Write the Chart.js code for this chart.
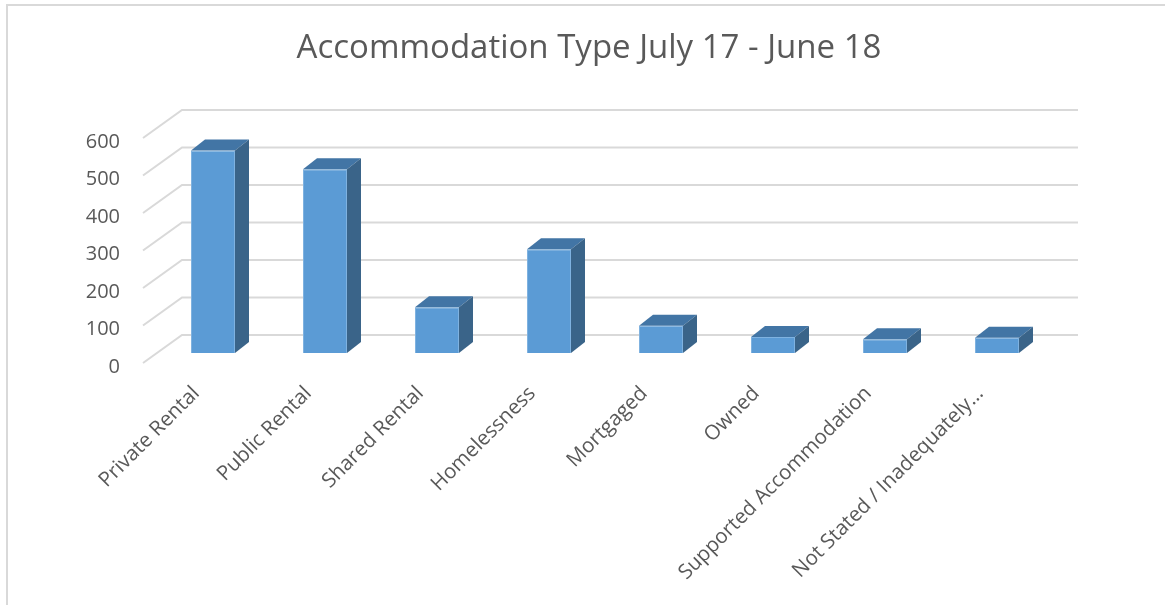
<!DOCTYPE html>
<html><head><meta charset="utf-8">
<script src="https://cdn.jsdelivr.net/npm/chart.js"></script>
<style>html,body{margin:0;padding:0;background:#fff;overflow:hidden}</style>
</head><body>
<div style="position:relative;width:1165px;height:605px"><canvas id="c" width="1165" height="605" style="width:1165px;height:605px"></canvas></div>
<script>
const categories = ['Private Rental','Public Rental','Shared Rental','Homelessness','Mortgaged','Owned','Supported Accommodation','Not Stated / Inadequately\u2026'];
const values = [540, 490, 122, 277, 73, 43, 37, 41];
const yTicks = [0, 100, 200, 300, 400, 500, 600];
const titleText = 'Accommodation Type July 17 - June 18';

const FONT = "'Open Sans', 'Noto Sans', sans-serif";
const TEXT = '#595959';
const GRID = '#d9d9d9';
const BAR_DX = 14, BAR_DY = -11;
const WALL_DX = 25, WALL_DY = -18;
const FLOOR_DX = -14, FLOOR_DY = 10;

const threeD = {
  id: 'threeD',
  beforeDraw(chart) {
    const ctx = chart.ctx;
    ctx.save();
    ctx.fillStyle = '#fff';
    ctx.fillRect(0, 0, chart.width, chart.height);
    ctx.strokeStyle = GRID; ctx.lineWidth = 2;
    ctx.beginPath();
    ctx.moveTo(7, chart.height); ctx.lineTo(7, 5); ctx.lineTo(chart.width, 5);
    ctx.stroke();
    ctx.restore();
  },
  beforeDatasetsDraw(chart) {
    const {ctx, chartArea: a, scales: {y}} = chart;
    ctx.save();
    ctx.strokeStyle = GRID; ctx.lineWidth = 2;
    yTicks.forEach(v => {
      const py = y.getPixelForValue(v);
      ctx.beginPath();
      ctx.moveTo(a.left + FLOOR_DX, py + FLOOR_DY);
      ctx.lineTo(a.left + WALL_DX, py + WALL_DY);
      ctx.lineTo(a.right + WALL_DX, py + WALL_DY);
      ctx.stroke();
    });
    ctx.restore();
  },
  afterDatasetsDraw(chart) {
    const ctx = chart.ctx;
    const meta = chart.getDatasetMeta(0);
    ctx.save();
    meta.data.forEach(bar => {
      const p = bar.getProps(['x', 'y', 'base', 'width'], true);
      const l = p.x - p.width / 2, r = p.x + p.width / 2, t = p.y, b = p.base;
      ctx.fillStyle = '#4275a5';
      ctx.beginPath();
      ctx.moveTo(l, t); ctx.lineTo(r, t); ctx.lineTo(r + BAR_DX, t + BAR_DY); ctx.lineTo(l + BAR_DX, t + BAR_DY);
      ctx.closePath(); ctx.fill();
      ctx.fillStyle = '#3a6489';
      ctx.beginPath();
      ctx.moveTo(r, t); ctx.lineTo(r + BAR_DX, t + BAR_DY); ctx.lineTo(r + BAR_DX, b + BAR_DY); ctx.lineTo(r, b);
      ctx.closePath(); ctx.fill();
    });
    ctx.restore();
  },
  afterDraw(chart) {
    const {ctx, chartArea: a, scales: {x, y}} = chart;
    ctx.save();
    ctx.fillStyle = TEXT;
    ctx.font = '33px ' + FONT;
    ctx.textAlign = 'center'; ctx.textBaseline = 'middle';
    ctx.fillText(titleText, 589, 49);
    ctx.font = '20px ' + FONT;
    ctx.textAlign = 'right'; ctx.textBaseline = 'middle';
    yTicks.forEach(v => {
      ctx.fillText(String(v), a.left - 37, y.getPixelForValue(v) + 14);
    });
    ctx.font = '20.5px ' + FONT;
    categories.forEach((c, i) => {
      const px = x.getPixelForValue(i);
      ctx.save();
      ctx.translate(px - 24, 383);
      ctx.rotate(-Math.PI / 4);
      ctx.textAlign = 'right'; ctx.textBaseline = 'top';
      ctx.fillText(c, 0, 0);
      ctx.restore();
    });
    ctx.restore();
  }
};

new Chart(document.getElementById('c'), {
  type: 'bar',
  data: {
    labels: categories,
    datasets: [{
      data: values,
      backgroundColor: '#5b9bd5',
      borderColor: '#7fb2e0',
      borderWidth: 1,
      barPercentage: 44 / 112,
      categoryPercentage: 1
    }]
  },
  options: {
    responsive: false,
    animation: false,
    devicePixelRatio: 1,
    layout: { padding: { left: 157, right: 112, top: 128, bottom: 252 } },
    scales: {
      x: { display: false },
      y: { display: false, min: 0, max: 600 }
    },
    plugins: {
      legend: { display: false },
      tooltip: { enabled: false },
      title: { display: false }
    }
  },
  plugins: [threeD]
});
</script>
</body></html>
